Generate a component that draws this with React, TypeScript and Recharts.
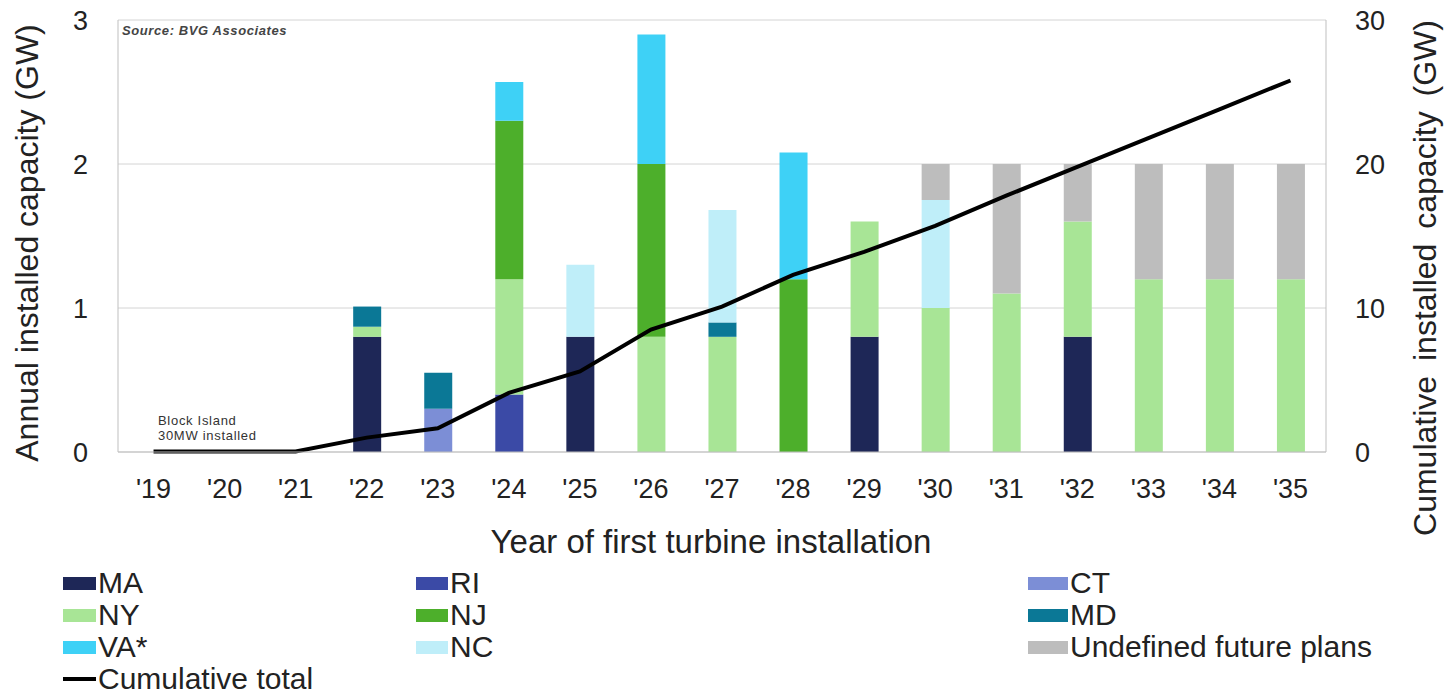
import React from 'react';
import { ComposedChart, Bar, Line, XAxis, YAxis, CartesianGrid, Label } from 'recharts';

const years = ["'19", "'20", "'21", "'22", "'23", "'24", "'25", "'26", "'27", "'28", "'29", "'30", "'31", "'32", "'33", "'34", "'35"];
const MA = [0, 0, 0, 0.8, 0, 0, 0.8, 0, 0, 0, 0.8, 0, 0, 0.8, 0, 0, 0];
const RI = [0, 0, 0, 0, 0, 0.4, 0, 0, 0, 0, 0, 0, 0, 0, 0, 0, 0];
const CT = [0, 0, 0, 0, 0.3, 0, 0, 0, 0, 0, 0, 0, 0, 0, 0, 0, 0];
const NY = [0, 0, 0, 0.07, 0, 0.8, 0, 0.8, 0.8, 0, 0.8, 1.0, 1.1, 0.8, 1.2, 1.2, 1.2];
const NJ = [0, 0, 0, 0, 0, 1.1, 0, 1.2, 0, 1.2, 0, 0, 0, 0, 0, 0, 0];
const MD = [0, 0, 0, 0.14, 0.25, 0, 0, 0, 0.1, 0, 0, 0, 0, 0, 0, 0, 0];
const VA = [0, 0, 0, 0, 0, 0.27, 0, 0.9, 0, 0.88, 0, 0, 0, 0, 0, 0, 0];
const NC = [0, 0, 0, 0, 0, 0, 0.5, 0, 0.78, 0, 0, 0.75, 0, 0, 0, 0, 0];
const UNDEF = [0, 0, 0, 0, 0, 0, 0, 0, 0, 0, 0, 0.25, 0.9, 0.4, 0.8, 0.8, 0.8];
const CUMULATIVE = [0.03, 0.03, 0.03, 1.0, 1.65, 4.1, 5.6, 8.5, 10.1, 12.3, 13.9, 15.7, 17.8, 19.8, 21.8, 23.8, 25.8];

const leftTicks = [0, 1, 2, 3];
const rightTicks = [0, 10, 20, 30];

const seriesList = [
  { key: 'MA', label: 'MA', color: '#1e2757', values: MA },
  { key: 'RI', label: 'RI', color: '#3b4aa6', values: RI },
  { key: 'CT', label: 'CT', color: '#7c8ed6', values: CT },
  { key: 'NY', label: 'NY', color: '#a8e596', values: NY },
  { key: 'NJ', label: 'NJ', color: '#4daf2b', values: NJ },
  { key: 'MD', label: 'MD', color: '#0b7896', values: MD },
  { key: 'VA', label: 'VA*', color: '#3ed1f6', values: VA },
  { key: 'NC', label: 'NC', color: '#bfeef9', values: NC },
  { key: 'UNDEF', label: 'Undefined future plans', color: '#bdbdbd', values: UNDEF },
];

const data = years.map((y, i) => {
  const row: any = { year: y, cum: CUMULATIVE[i] };
  seriesList.forEach((s) => { row[s.key] = s.values[i]; });
  return row;
});

const FONT = '"Liberation Sans", Arial, sans-serif';
const TEXT = '#222';

const LeftTitle = (props: any) => {
  const vb = props.viewBox || { x: 0, y: 20, width: 118, height: 432 };
  const cx = vb.x + 27;
  const cy = vb.y + vb.height / 2 + 7;
  return (
    <text x={cx} y={cy} transform={`rotate(-90 ${cx} ${cy})`} textAnchor="middle" dominantBaseline="central"
      fontSize={32} fontFamily={FONT} fill={TEXT}>Annual installed capacity (GW)</text>
  );
};

const RightTitle = (props: any) => {
  const vb = props.viewBox || { x: 1326, y: 20, width: 124, height: 432 };
  const cx = vb.x + 99;
  const cy = vb.y + vb.height / 2 + 42;
  return (
    <text x={cx} y={cy} transform={`rotate(-90 ${cx} ${cy})`} textAnchor="middle" dominantBaseline="central"
      fontSize={32} fontFamily={FONT} fill={TEXT} style={{ wordSpacing: '6px' }}>Cumulative installed capacity (GW)</text>
  );
};

const BottomTitle = (props: any) => {
  const vb = props.viewBox || { x: 118, y: 452, width: 1208, height: 80 };
  const cx = vb.x + vb.width / 2 - 11;
  const y = vb.y + 101;
  return (
    <text x={cx} y={y} textAnchor="middle" fontSize={33} fontFamily={FONT} fill={TEXT}>Year of first turbine installation</text>
  );
};

const legendCols = [
  { left: 63, sw: 33 },
  { left: 416, sw: 32 },
  { left: 1028, sw: 40 },
];
const legendRows = [583, 615, 647, 679];

export default function App() {
  return (
    <div style={{ position: 'absolute', left: 0, top: 0, width: 1450, height: 696, background: '#fff', fontFamily: FONT }}>
      <ComposedChart width={1450} height={696} data={data} margin={{ top: 20, right: 0, left: 0, bottom: 164 }}>
        <CartesianGrid horizontal={true} vertical={false} stroke="#d4d4d4" yAxisId="left" />
        <XAxis dataKey="year" height={80} tickSize={0} tickMargin={27} axisLine={{ stroke: '#bfbfbf' }} tickLine={false}
          tick={{ fontSize: 27, fill: TEXT, fontFamily: FONT }} interval={0}>
          <Label content={<BottomTitle />} />
        </XAxis>
        <YAxis yAxisId="left" width={118} domain={[0, 3]} ticks={leftTicks} tickSize={0} tickMargin={30}
          axisLine={{ stroke: '#bfbfbf' }} tickLine={false} tick={{ fontSize: 27, fill: TEXT, fontFamily: FONT }}>
          <Label content={<LeftTitle />} />
        </YAxis>
        <YAxis yAxisId="right" orientation="right" width={124} domain={[0, 30]} ticks={rightTicks} tickSize={0} tickMargin={29}
          axisLine={{ stroke: '#bfbfbf' }} tickLine={false} tick={{ fontSize: 27, fill: TEXT, fontFamily: FONT }}>
          <Label content={<RightTitle />} />
        </YAxis>
        {seriesList.map((s) => (
          <Bar key={s.key} dataKey={s.key} stackId="a" yAxisId="left" fill={s.color} barSize={28} isAnimationActive={false} />
        ))}
        <Line dataKey="cum" yAxisId="right" type="linear" stroke="#000" strokeWidth={4} dot={false} activeDot={false} isAnimationActive={false} />
      </ComposedChart>

      <div style={{ position: 'absolute', left: 122, top: 24, fontSize: 13, fontStyle: 'italic', fontWeight: 'bold', color: '#444', letterSpacing: '0.6px', lineHeight: '13px' }}>
        Source: BVG Associates
      </div>
      <div style={{ position: 'absolute', left: 158, top: 413, fontSize: 13, color: '#333', letterSpacing: '0.7px', lineHeight: '15px' }}>
        <div>Block Island</div>
        <div>30MW installed</div>
      </div>

      {seriesList.map((s, i) => {
        const col = legendCols[i % 3];
        const cy = legendRows[Math.floor(i / 3)];
        return (
          <React.Fragment key={s.key}>
            <div style={{ position: 'absolute', left: col.left, top: cy - 6.5, width: col.sw, height: 13, background: s.color }} />
            <div style={{ position: 'absolute', left: col.left + col.sw + 2, top: cy - 15, fontSize: 30, lineHeight: '30px', color: TEXT, whiteSpace: 'nowrap' }}>{s.label}</div>
          </React.Fragment>
        );
      })}
      <div style={{ position: 'absolute', left: legendCols[0].left, top: legendRows[3] - 2, width: legendCols[0].sw, height: 4, background: '#000' }} />
      <div style={{ position: 'absolute', left: legendCols[0].left + legendCols[0].sw + 2, top: legendRows[3] - 15, fontSize: 30, lineHeight: '30px', color: TEXT, whiteSpace: 'nowrap' }}>Cumulative total</div>
    </div>
  );
}
